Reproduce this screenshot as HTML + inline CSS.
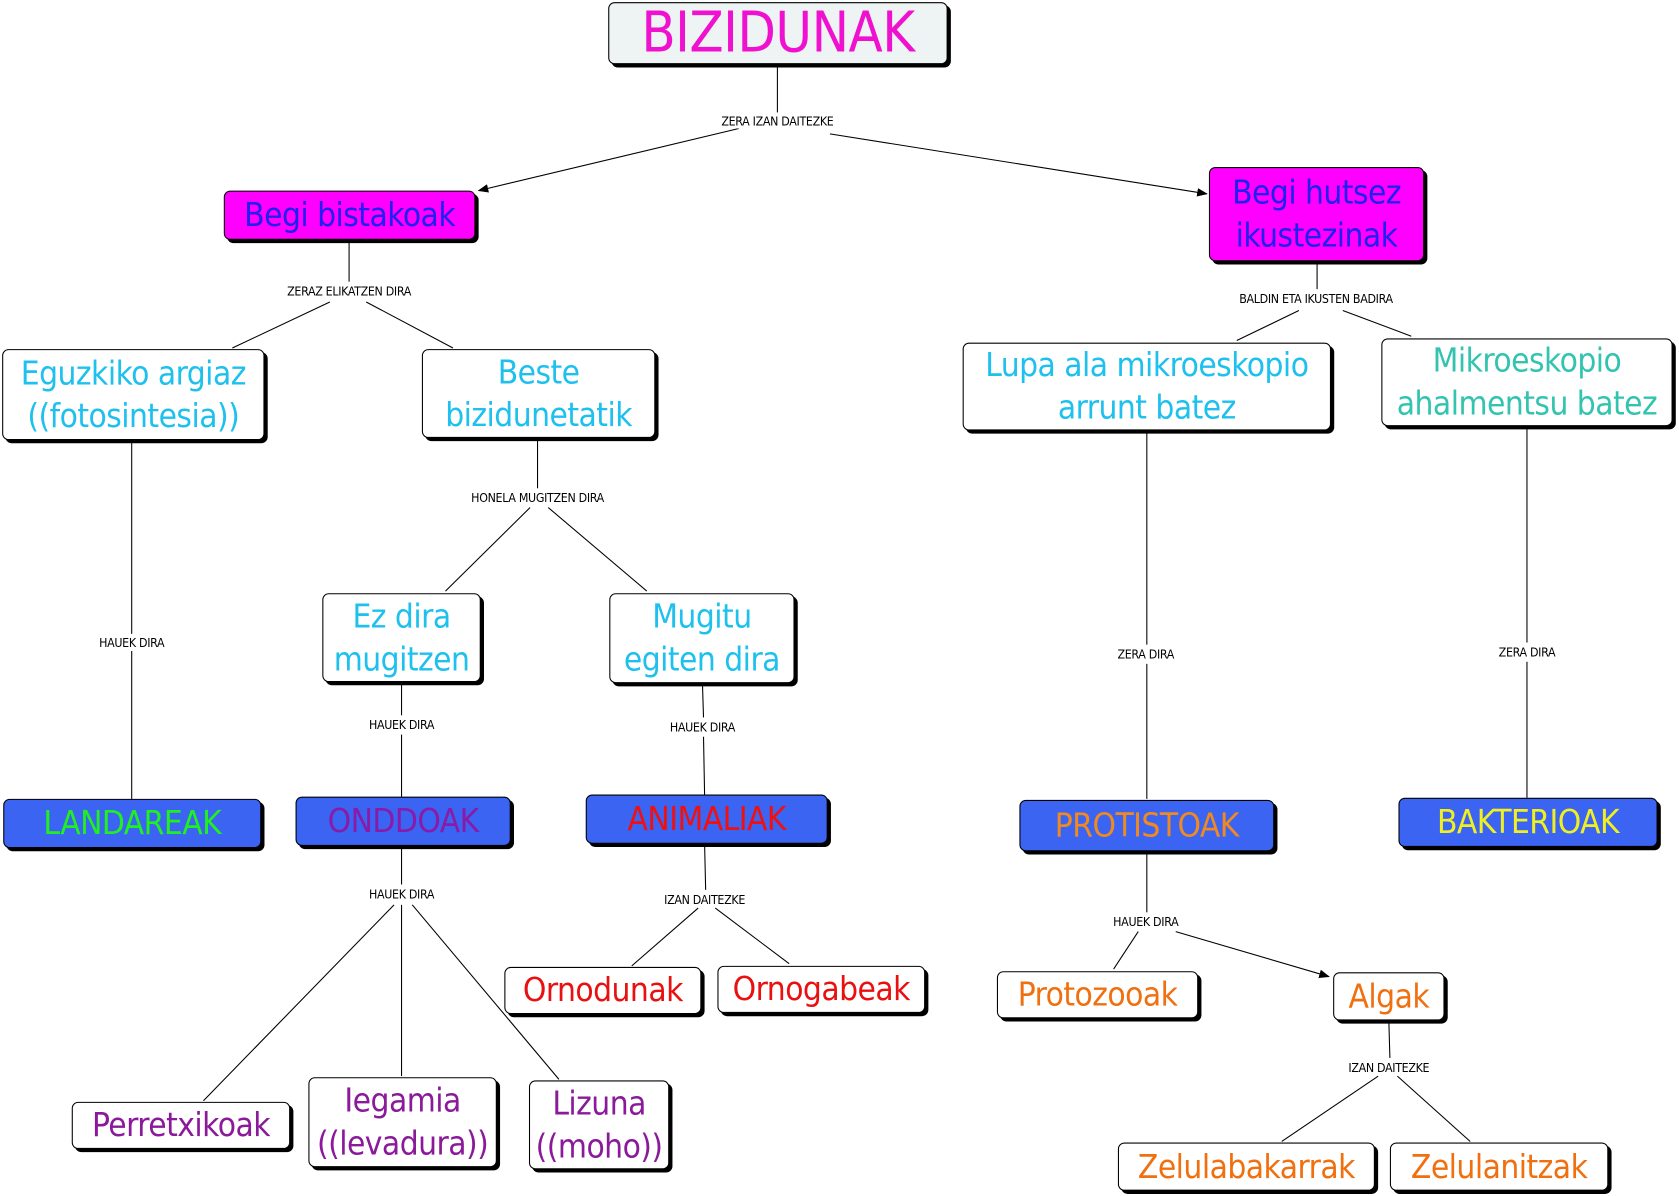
<!DOCTYPE html>
<html><head><meta charset="utf-8"><style>
html,body{margin:0;padding:0;background:#fff;width:1679px;height:1196px;overflow:hidden}
#w{position:absolute;left:0;top:0;width:1568px;height:1117px;transform:scale(1.0708);transform-origin:0 0}
.b{position:absolute;box-sizing:border-box;border:1px solid #000;border-radius:6px;box-shadow:3px 3px 0 #000;background:#fff;display:flex;align-items:center;justify-content:center;text-align:center;font-family:"DejaVu Sans Condensed","Liberation Sans Narrow","Liberation Sans",sans-serif;font-size:31px;line-height:40px;white-space:nowrap;letter-spacing:-0.5px}
.l{position:absolute;transform:translate(-50%,-50%);font-family:"DejaVu Sans Condensed","Liberation Sans",sans-serif;font-size:11.5px;white-space:nowrap;background:#fff;letter-spacing:-0.3px}
.bl{background:#3b64f2}.mg{background:#ff00ff}
svg{position:absolute;left:0;top:0}
</style></head><body><div id="w">
<svg width="1568" height="1117" stroke="#000" stroke-width="1" fill="none">
<defs><marker id="a" markerWidth="10" markerHeight="8" refX="9" refY="4" orient="auto" markerUnits="userSpaceOnUse"><path d="M0,0 L10,4 L0,8 Z" fill="#000" stroke="none"/></marker></defs>
<line x1="726" y1="60" x2="726" y2="105"/>
<line x1="690" y1="120" x2="447" y2="178" marker-end="url(#a)"/>
<line x1="775" y1="125" x2="1127" y2="181" marker-end="url(#a)"/>
<line x1="326" y1="224" x2="326" y2="263"/>
<line x1="308" y1="282" x2="217" y2="325"/>
<line x1="342" y1="282" x2="423" y2="325"/>
<line x1="1230" y1="244" x2="1230" y2="270"/>
<line x1="1213" y1="290" x2="1155" y2="318"/>
<line x1="1254" y1="290" x2="1318" y2="314"/>
<line x1="123" y1="411" x2="123" y2="592"/>
<line x1="123" y1="608" x2="123" y2="746"/>
<line x1="502" y1="409" x2="502" y2="456"/>
<line x1="495" y1="474" x2="416" y2="552"/>
<line x1="512" y1="474" x2="604" y2="552"/>
<line x1="375" y1="637" x2="375" y2="668"/>
<line x1="375" y1="686" x2="375" y2="744"/>
<line x1="656" y1="638" x2="657" y2="670"/>
<line x1="657" y1="688" x2="658" y2="742"/>
<line x1="375" y1="790" x2="375" y2="826"/>
<line x1="368" y1="845" x2="190" y2="1028"/>
<line x1="375" y1="845" x2="375" y2="1005"/>
<line x1="385" y1="845" x2="522" y2="1008"/>
<line x1="658" y1="788" x2="659" y2="831"/>
<line x1="652" y1="848" x2="590" y2="902"/>
<line x1="668" y1="848" x2="737" y2="900"/>
<line x1="1071" y1="402" x2="1071" y2="602"/>
<line x1="1071" y1="620" x2="1071" y2="746"/>
<line x1="1426" y1="398" x2="1426" y2="600"/>
<line x1="1426" y1="618" x2="1426" y2="745"/>
<line x1="1071" y1="795" x2="1071" y2="852"/>
<line x1="1063" y1="870" x2="1040" y2="905"/>
<line x1="1098" y1="870" x2="1241" y2="912" marker-end="url(#a)"/>
<line x1="1297" y1="953" x2="1298" y2="988"/>
<line x1="1287" y1="1005" x2="1197" y2="1066"/>
<line x1="1305" y1="1005" x2="1373" y2="1066"/>
</svg>
<div class="b" style="left:568px;top:2px;width:317px;height:58px;background:#eef4f4;color:#f010d0;font-size:52px">BIZIDUNAK</div>
<div class="l" style="left:726px;top:113px">ZERA IZAN DAITEZKE</div>
<div class="b mg" style="left:209px;top:178px;width:235px;height:46px;color:#2020f0">Begi bistakoak</div>
<div class="b mg" style="left:1129px;top:156px;width:201px;height:88px;color:#2020f0">Begi hutsez<br>ikustezinak</div>
<div class="l" style="left:326px;top:272px">ZERAZ ELIKATZEN DIRA</div>
<div class="l" style="left:1229px;top:279px">BALDIN ETA IKUSTEN BADIRA</div>
<div class="b" style="left:2px;top:326px;width:245px;height:85px;color:#1ec0ee">Eguzkiko argiaz<br>((fotosintesia))</div>
<div class="b" style="left:394px;top:326px;width:218px;height:83px;color:#1ec0ee">Beste<br>bizidunetatik</div>
<div class="b" style="left:899px;top:320px;width:344px;height:82px;color:#1ec0ee">Lupa ala mikroeskopio<br>arrunt batez</div>
<div class="b" style="left:1290px;top:316px;width:272px;height:82px;color:#33c4b0">Mikroeskopio<br>ahalmentsu batez</div>
<div class="l" style="left:123px;top:600px">HAUEK DIRA</div>
<div class="l" style="left:502px;top:465px">HONELA MUGITZEN DIRA</div>
<div class="b" style="left:301px;top:554px;width:148px;height:83px;color:#1ec0ee">Ez dira<br>mugitzen</div>
<div class="b" style="left:569px;top:554px;width:173px;height:84px;color:#1ec0ee">Mugitu<br>egiten dira</div>
<div class="l" style="left:375px;top:677px">HAUEK DIRA</div>
<div class="l" style="left:656px;top:679px">HAUEK DIRA</div>
<div class="l" style="left:1070px;top:611px">ZERA DIRA</div>
<div class="l" style="left:1426px;top:609px">ZERA DIRA</div>
<div class="b bl" style="left:3px;top:746px;width:241px;height:46px;color:#20f020">LANDAREAK</div>
<div class="b bl" style="left:276px;top:744px;width:201px;height:46px;color:#8a1aa8">ONDDOAK</div>
<div class="b bl" style="left:547px;top:742px;width:226px;height:46px;color:#f01010">ANIMALIAK</div>
<div class="b bl" style="left:952px;top:747px;width:238px;height:48px;color:#f08a20">PROTISTOAK</div>
<div class="b bl" style="left:1306px;top:745px;width:242px;height:46px;color:#f0f020">BAKTERIOAK</div>
<div class="l" style="left:375px;top:835px">HAUEK DIRA</div>
<div class="l" style="left:658px;top:840px">IZAN DAITEZKE</div>
<div class="l" style="left:1070px;top:861px">HAUEK DIRA</div>
<div class="b" style="left:471px;top:903px;width:184px;height:44px;color:#e81010">Ornodunak</div>
<div class="b" style="left:670px;top:902px;width:194px;height:44px;color:#e81010">Ornogabeak</div>
<div class="b" style="left:931px;top:907px;width:188px;height:44px;color:#f07010">Protozooak</div>
<div class="b" style="left:1245px;top:908px;width:104px;height:45px;color:#f07010">Algak</div>
<div class="l" style="left:1297px;top:997px">IZAN DAITEZKE</div>
<div class="b" style="left:67px;top:1029px;width:204px;height:44px;color:#8a1a9a">Perretxikoak</div>
<div class="b" style="left:288px;top:1006px;width:176px;height:84px;color:#8a1a9a">Iegamia<br>((levadura))</div>
<div class="b" style="left:494px;top:1009px;width:131px;height:83px;color:#8a1a9a">Lizuna<br>((moho))</div>
<div class="b" style="left:1044px;top:1067px;width:240px;height:45px;color:#f07010">Zelulabakarrak</div>
<div class="b" style="left:1298px;top:1067px;width:204px;height:45px;color:#f07010">Zelulanitzak</div>
</div></body></html>
